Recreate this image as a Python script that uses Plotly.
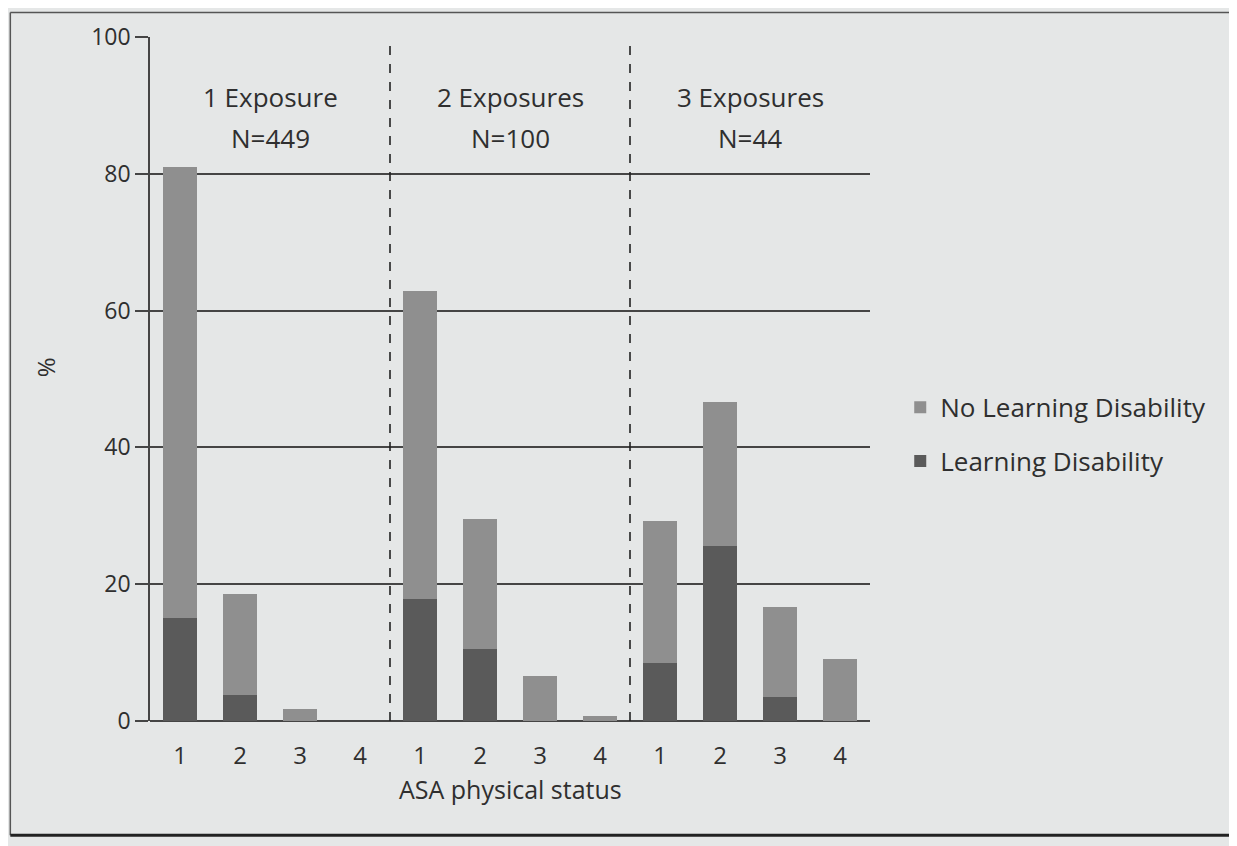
import plotly.graph_objects as go

positions = list(range(12))
asa_labels = ["1", "2", "3", "4", "1", "2", "3", "4", "1", "2", "3", "4"]
learning_disability = [15.0, 3.8, 0, 0, 17.8, 10.6, 0, 0, 8.5, 25.6, 3.5, 0]
no_learning_disability = [66.0, 14.8, 1.8, 0, 45.0, 18.9, 6.6, 0.7, 20.8, 21.1, 13.1, 9.1]
group_titles = ["1 Exposure", "2 Exposures", "3 Exposures"]
group_n = ["N=449", "N=100", "N=44"]
group_centers = [1.5, 5.5, 9.5]
dividers = [3.5, 7.5]
y_ticks = [0, 20, 40, 60, 80, 100]

FONT = "'Open Sans', sans-serif"
TXT = "#2f2f2f"
BG = "#e5e7e7"

fig = go.Figure()
fig.add_trace(go.Bar(x=positions, y=learning_disability, name="Learning Disability",
                     legendgroup="ld", legendrank=2,
                     marker=dict(color="#5a5a5a", line=dict(width=0)), width=0.58))
fig.add_trace(go.Bar(x=positions, y=no_learning_disability, name="No Learning Disability",
                     legendgroup="nld", legendrank=1,
                     marker=dict(color="#8f8f8f", line=dict(width=0)), width=0.58))

shapes = []
for d in dividers:
    shapes.append(dict(type="line", xref="x", yref="y", x0=d, x1=d, y0=0, y1=100,
                       line=dict(color="#222", width=1.6, dash="dash")))
# outer frame
shapes.append(dict(type="line", xref="paper", yref="paper", x0=-0.194, x1=1.55, y0=1.036, y1=1.036,
                   line=dict(color="#555", width=1.5)))
shapes.append(dict(type="line", xref="paper", yref="paper", x0=-0.194, x1=-0.194, y0=1.036, y1=-0.167,
                   line=dict(color="#555", width=1.5)))
shapes.append(dict(type="line", xref="paper", yref="paper", x0=-0.194, x1=1.55, y0=-0.167, y1=-0.167,
                   line=dict(color="#222", width=3)))

annotations = []
for c, t, n in zip(group_centers, group_titles, group_n):
    annotations.append(dict(x=c, y=91.3, xref="x", yref="y", text=t, showarrow=False,
                            font=dict(size=26, color=TXT, family=FONT)))
    annotations.append(dict(x=c, y=85.2, xref="x", yref="y", text=n, showarrow=False,
                            font=dict(size=26, color=TXT, family=FONT)))
annotations.append(dict(x=-0.146, y=0.517, xref="paper", yref="paper", text="%", textangle=-90,
                        xanchor="center", yanchor="middle",
                        showarrow=False, font=dict(size=24, color=TXT, family=FONT)))
annotations.append(dict(x=0.5, y=-0.1, xref="paper", yref="paper", text="ASA physical status",
                        xanchor="center", yanchor="middle",
                        showarrow=False, font=dict(size=25, color=TXT, family=FONT)))

fig.update_layout(
    width=1237, height=846,
    margin=dict(l=142, r=375, t=25, b=133),
    paper_bgcolor=BG, plot_bgcolor=BG,
    barmode="stack",
    font=dict(family=FONT, color=TXT, size=23),
    shapes=shapes,
    annotations=annotations,
    legend=dict(x=1.042, y=0.493, xanchor="left", yanchor="top", traceorder="grouped",
                font=dict(size=26, color=TXT, family=FONT), bgcolor="rgba(0,0,0,0)",
                itemwidth=30, tracegroupgap=17),
    xaxis=dict(range=[-0.5, 11.5], tickmode="array", tickvals=positions, ticktext=asa_labels,
               showgrid=False, zeroline=False, showline=False, ticks="",
               ticklabelstandoff=18, tickfont=dict(size=24, color=TXT)),
    yaxis=dict(range=[0, 100], tickmode="array", tickvals=y_ticks, showgrid=True,
               gridcolor="#454545", gridwidth=1.5, zeroline=True, zerolinecolor="#454545",
               zerolinewidth=1.5, showline=True, linecolor="#454545", linewidth=1.5,
               ticks="outside", ticklen=13, tickcolor="#454545", tickwidth=1.5,
               tickfont=dict(size=23, color=TXT)),
)

fig.write_html("out.html")
